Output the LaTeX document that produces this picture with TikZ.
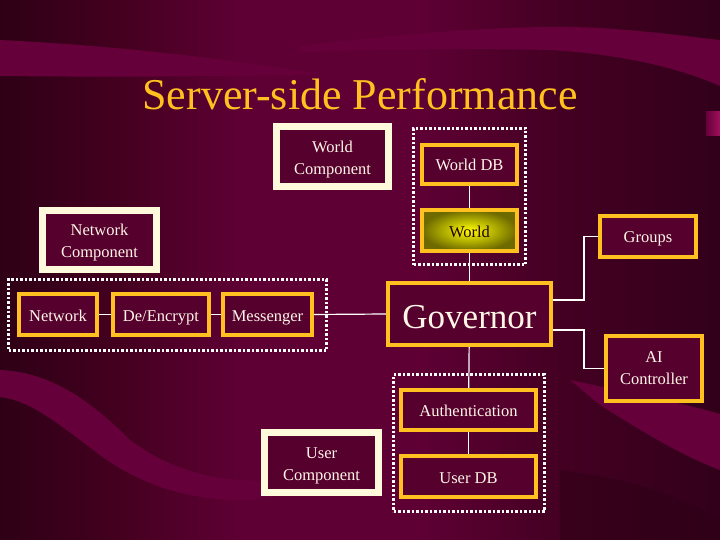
\documentclass[tikz,border=0pt]{standalone}
\usepackage{fontspec}
\setmainfont{Liberation Serif}
\definecolor{bgmid}{HTML}{5E0034}
\definecolor{bgdark}{HTML}{2E0016}
\definecolor{bgmidl}{HTML}{44001F}
\definecolor{bgmidr}{HTML}{440022}
\definecolor{bgright}{HTML}{32001A}
\definecolor{band}{HTML}{66003A}
\definecolor{gold}{HTML}{FFC020}
\definecolor{cream}{HTML}{FFFADC}
\definecolor{boxfill}{HTML}{56002E}
\definecolor{txt}{HTML}{FFF6E6}
\definecolor{olive}{HTML}{6E6A00}
\definecolor{pinkish}{HTML}{A0105C}
\pgfdeclarehorizontalshading{bgshade}{100bp}{color(0bp)=(bgdark); color(25bp)=(bgdark); color(33.3bp)=(bgmidl); color(41.7bp)=(bgmid); color(54.2bp)=(bgmid); color(63.9bp)=(bgmidr); color(75bp)=(bgright); color(100bp)=(bgright)}
\begin{document}
\begin{tikzpicture}[x=1pt,y=-1pt,
  boxtext/.style={font=\fontsize{16.5}{22}\selectfont, text=txt, align=center},
  goldbox/.style={boxtext, draw=gold, line width=4pt, fill=boxfill, inner sep=0pt},
  oneline/.style={text height=13pt, text depth=0pt},
  twoline/.style={text height=36pt, text depth=0pt},
  creambox/.style={boxtext, draw=cream, line width=7pt, fill=boxfill, inner sep=0pt},
  groupbox/.style={draw=white, line width=3pt, dash pattern=on 2.5pt off 2pt, inner sep=0pt},
  link/.style={draw=white, line width=1.2pt}]
\useasboundingbox (0,0) rectangle (720,540);
% background
\shade[shading=bgshade] (0,0) rectangle (720,540);
\fill[band] (0,40) .. controls (120,46) and (220,58) .. (320,74) .. controls (220,77) and (100,77) .. (0,76) -- cycle;
\fill[band] (300,46) .. controls (420,32) and (520,24) .. (600,28) .. controls (660,32) and (700,38) .. (720,40) -- (720,86) .. controls (680,68) and (620,54) .. (550,50) .. controls (450,48) and (380,50) .. (300,52) -- cycle;
\fill[band] (0,370) .. controls (50,372) and (90,400) .. (130,440) .. controls (170,470) and (210,478) .. (240,480) .. controls (260,481) and (280,484) .. (300,490) .. controls (280,496) and (260,500) .. (240,500) .. controls (190,500) and (140,485) .. (100,455) .. controls (60,425) and (30,400) .. (0,397) -- cycle;
\fill[band] (570,380) .. controls (640,395) and (690,405) .. (720,414) -- (720,470) .. controls (680,455) and (640,430) .. (600,405) -- cycle;
\fill[bgdark, opacity=0.5] (560,470) .. controls (640,480) and (690,500) .. (720,520) -- (720,540) -- (560,540) -- cycle;
\shade[left color=band, right color=pinkish] (706,112) rectangle (720,136);
% title
\node[text=gold, font=\fontsize{44}{50}\selectfont] (title) at (360,94) {Server-side Performance};
% groups
\node[groupbox, minimum width=112pt, minimum height=136pt] (worldgrp) at (469.5,196.5) {};
\node[groupbox, minimum width=151pt, minimum height=137pt] (authgrp) at (469,443) {};
\node[groupbox, minimum width=318pt, minimum height=71pt] (netgrp) at (167.5,315) {};
% component boxes
\node[creambox, twoline, minimum width=112pt, minimum height=60pt] (worldcomp) at (332.5,156.5) {World\\Component};
\node[creambox, twoline, minimum width=114pt, minimum height=59pt] (netcomp) at (99.5,240) {Network\\Component};
\node[creambox, twoline, minimum width=114pt, minimum height=60pt] (usercomp) at (321.5,462.5) {User\\Component};
% gold boxes
\node[goldbox, oneline, minimum width=95pt, minimum height=39pt] (worlddb) at (469.5,164.5) {World DB};
\node[goldbox, oneline, inner color=yellow, outer color=olive, text=black!85!red, minimum width=95pt, minimum height=41pt] (world) at (469.5,230.5) {World};
\node[goldbox, font=\fontsize{35}{40}\selectfont, text height=30pt, text depth=1pt, minimum width=163pt, minimum height=62pt] (governor) at (469.5,314) {Governor};
\node[goldbox, oneline, minimum width=96pt, minimum height=41pt] (groups) at (648,236.5) {Groups};
\node[goldbox, minimum width=96pt, minimum height=65pt] (ai) at (654,368.5) {AI\\Controller};
\node[goldbox, oneline, minimum width=135pt, minimum height=40pt] (auth) at (468.5,410) {Authentication};
\node[goldbox, oneline, minimum width=135pt, minimum height=41pt] (userdb) at (468.5,476.5) {User DB};
\node[goldbox, oneline, minimum width=78pt, minimum height=41pt] (network) at (58,314.5) {Network};
\node[goldbox, oneline, minimum width=96pt, minimum height=41pt] (decrypt) at (161,314.5) {De/Encrypt};
\node[goldbox, oneline, minimum width=89pt, minimum height=41pt] (messenger) at (267.5,314.5) {Messenger};
% connectors
\draw[link] (worlddb) -- (world);
\draw[link] (world) -- (governor);
\draw[link] (governor) -- (auth);
\draw[link] (auth) -- (userdb);
\draw[link] (network) -- (decrypt);
\draw[link] (decrypt) -- (messenger);
\draw[link] (messenger.east) -- (governor.west);
\draw[link] ([yshift=14pt]governor.east) -- ++(31,0) |- (groups.west);
\draw[link] ([yshift=-16pt]governor.east) -- ++(31,0) |- (ai.west);
\end{tikzpicture}
\end{document}
